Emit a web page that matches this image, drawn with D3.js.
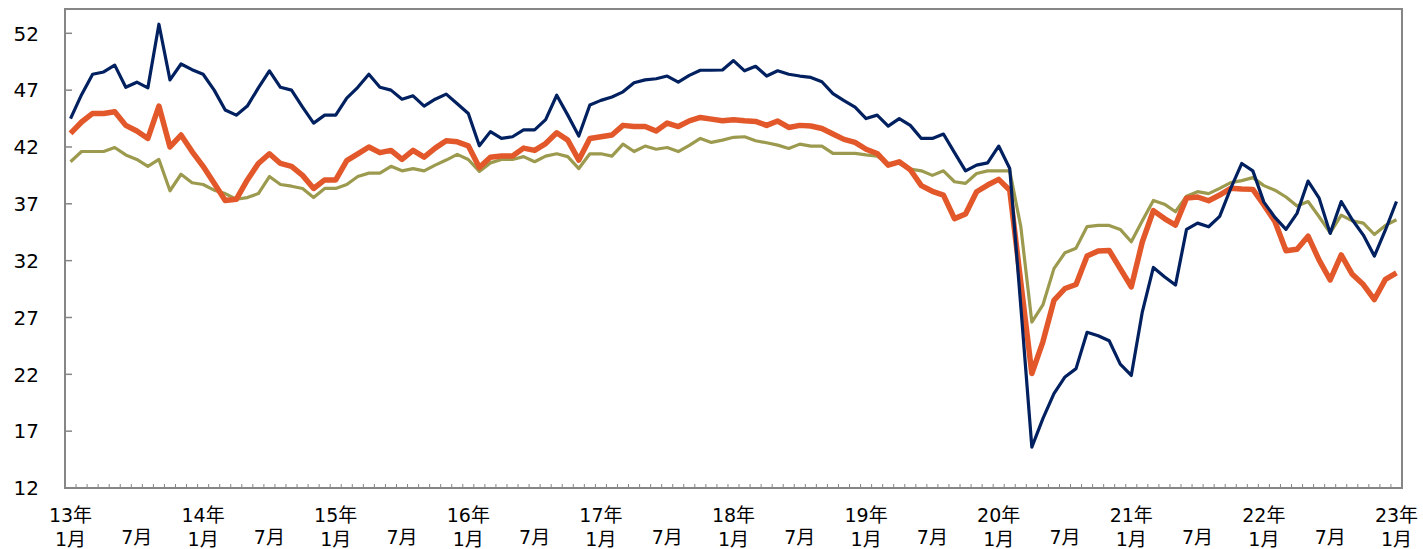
<!DOCTYPE html>
<html>
<head>
<meta charset="utf-8">
<script src="https://cdn.jsdelivr.net/npm/d3@7"></script>
<style>
  body { margin: 0; background: #fff; }
  text { font-family: "DejaVu Sans", Verdana, "Noto Sans CJK JP", sans-serif; fill: #000; }
</style>
</head>
<body>
<div id="chart"></div>
<script>
// monthly data, 2013/1 .. 2023/1
var seriesNavy = [44.5, 46.6, 48.4, 48.6, 49.2, 47.25, 47.7, 47.2, 52.8, 47.9, 49.3, 48.8,
  48.4, 47.0, 45.25, 44.8, 45.6, 47.2, 48.7, 47.25, 47.0, 45.5, 44.1, 44.8,
  44.8, 46.3, 47.25, 48.4, 47.25, 47.0, 46.2, 46.5, 45.6, 46.2, 46.65, 45.8,
  44.95, 42.1, 43.35, 42.75, 42.9, 43.5, 43.5, 44.4, 46.55, 44.8, 42.96, 45.7,
  46.1, 46.4, 46.85, 47.65, 47.9, 48.0, 48.24, 47.7, 48.3, 48.75, 48.75, 48.77,
  49.6, 48.7, 49.1, 48.24, 48.7, 48.4, 48.24, 48.12, 47.74, 46.7, 46.07, 45.5,
  44.5, 44.8, 43.84, 44.5, 43.9, 42.75, 42.75, 43.14, 41.5, 39.9, 40.4, 40.6,
  42.08, 40.1, 28.0, 15.6, 18.1, 20.3, 21.77, 22.5, 25.7, 25.4, 24.95, 22.9,
  21.9, 27.5, 31.4, 30.58, 29.85, 34.75, 35.3, 34.98, 35.9, 38.36, 40.55, 39.9,
  37.15, 35.8, 34.75, 36.16, 39.0, 37.5, 34.4, 37.2, 35.6, 34.25, 32.4, 34.7,
  37.2];

var seriesOrange = [43.2, 44.2, 44.95, 44.95, 45.1, 43.9, 43.4, 42.75, 45.6, 42.0, 43.05, 41.6,
  40.3, 38.8, 37.3, 37.4, 39.1, 40.55, 41.4, 40.55, 40.3, 39.5, 38.35, 39.1,
  39.1, 40.8, 41.4, 42.0, 41.5, 41.7, 40.9, 41.7, 41.1, 41.9, 42.55, 42.45,
  42.1, 40.2, 41.1, 41.2, 41.2, 41.9, 41.7, 42.3, 43.25, 42.6, 40.85, 42.75,
  42.9, 43.05, 43.9, 43.8, 43.8, 43.4, 44.1, 43.8, 44.3, 44.6, 44.45, 44.3,
  44.4, 44.3, 44.25, 43.9, 44.28, 43.72, 43.9, 43.84, 43.63, 43.14, 42.67, 42.4,
  41.8, 41.43, 40.4, 40.7, 40.0, 38.6, 38.1, 37.76, 35.7, 36.1, 38.06, 38.65,
  39.15, 38.2, 30.1, 22.07, 24.86, 28.5, 29.55, 29.9, 32.4, 32.85, 32.9, 31.3,
  29.7, 33.66, 36.4, 35.7, 35.13, 37.5, 37.6, 37.27, 37.77, 38.36, 38.3, 38.27,
  36.9, 35.45, 32.87, 33.0, 34.15, 32.04, 30.3, 32.5, 30.8, 29.9, 28.58, 30.35,
  30.93];

var seriesOlive = [40.7, 41.6, 41.6, 41.6, 41.95, 41.3, 40.9, 40.3, 40.9, 38.15, 39.6, 38.85,
  38.7, 38.2, 37.9, 37.4, 37.55, 37.9, 39.4, 38.7, 38.55, 38.35, 37.55, 38.35,
  38.35, 38.7, 39.4, 39.7, 39.7, 40.3, 39.9, 40.1, 39.9, 40.4, 40.85, 41.35,
  40.9, 39.85, 40.6, 40.9, 40.9, 41.15, 40.7, 41.2, 41.4, 41.15, 40.1, 41.4,
  41.4, 41.2, 42.25, 41.6, 42.08, 41.8, 41.95, 41.6, 42.15, 42.75, 42.4, 42.6,
  42.85, 42.9, 42.55, 42.37, 42.16, 41.87, 42.25, 42.08, 42.08, 41.43, 41.43, 41.43,
  41.3, 41.2, 40.55, 40.55, 40.05, 39.9, 39.5, 39.9, 38.94, 38.8, 39.67, 39.9,
  39.9, 39.9, 35.0, 26.6, 28.1, 31.3, 32.7, 33.1, 35.0, 35.1, 35.1, 34.75,
  33.66, 35.5, 37.3, 36.97, 36.3, 37.67, 38.07, 37.9, 38.36, 38.86, 39.04, 39.3,
  38.6, 38.2, 37.6, 36.8, 37.2, 35.86, 34.45, 36.0, 35.5, 35.3, 34.3, 35.1,
  35.6];

var yearLabels = ["13年", "14年", "15年", "16年", "17年", "18年", "19年", "20年", "21年", "22年", "23年"];
var yTicks = [12, 17, 22, 27, 32, 37, 42, 47, 52];

var svgWidth = 1423;
var svgHeight = 549;

var plot = { left: 65, right: 1402, top: 9, bottom: 488 };

var svg = d3.select("#chart")
  .append("svg")
  .attr("width", svgWidth)
  .attr("height", svgHeight);

var months = d3.range(seriesNavy.length);

var xScale = d3.scalePoint()
  .domain(months)
  .range([plot.left, plot.right])
  .padding(0.5);

var yScale = d3.scaleLinear()
  .domain([12, 52])
  .range([plot.bottom, 33.3]);

var step = xScale.step();

// month tick marks on the category boundaries, pointing up
svg.append("g").selectAll("line")
  .data(months.slice(0, months.length - 1))
  .enter()
  .append("line")
  .attr("x1", d => xScale(d) + step / 2)
  .attr("x2", d => xScale(d) + step / 2)
  .attr("y1", plot.bottom)
  .attr("y2", plot.bottom - 4)
  .attr("stroke", "#868686")
  .attr("stroke-width", 1);

// value ticks, pointing in
svg.append("g").selectAll("line")
  .data(yTicks)
  .enter()
  .append("line")
  .attr("x1", plot.left)
  .attr("x2", plot.left + 7)
  .attr("y1", d => yScale(d))
  .attr("y2", d => yScale(d))
  .attr("stroke", "#868686")
  .attr("stroke-width", 1.5);

// plot frame
svg.append("rect")
  .attr("x", plot.left)
  .attr("y", plot.top)
  .attr("width", plot.right - plot.left)
  .attr("height", plot.bottom - plot.top)
  .attr("fill", "none")
  .attr("stroke", "#868686")
  .attr("stroke-width", 2);

// y labels
svg.append("g").selectAll("text")
  .data(yTicks)
  .enter()
  .append("text")
  .attr("x", 39)
  .attr("y", d => yScale(d))
  .attr("dy", "0.36em")
  .attr("text-anchor", "end")
  .style("font-size", "20px")
  .text(d => d);

// x labels
var xLabels = svg.append("g");
months.filter(m => m % 12 === 0).forEach(function(m, i) {
  xLabels.append("text")
    .attr("x", xScale(m))
    .attr("y", 522)
    .attr("text-anchor", "middle")
    .style("font-size", "19px")
    .text(yearLabels[i]);
  xLabels.append("text")
    .attr("x", xScale(m))
    .attr("y", 546)
    .attr("text-anchor", "middle")
    .style("font-size", "19px")
    .text("1月");
});
months.filter(m => m % 12 === 6).forEach(function(m) {
  xLabels.append("text")
    .attr("x", xScale(m))
    .attr("y", 544)
    .attr("text-anchor", "middle")
    .style("font-size", "19px")
    .text("7月");
});

var line = d3.line()
  .x((d, i) => xScale(i))
  .y(d => yScale(d));

svg.append("path")
  .datum(seriesOlive)
  .attr("d", line)
  .attr("fill", "none")
  .attr("stroke", "#9C9A4E")
  .attr("stroke-width", 3.2)
  .attr("stroke-linejoin", "round");

svg.append("path")
  .datum(seriesOrange)
  .attr("d", line)
  .attr("fill", "none")
  .attr("stroke", "#E2582A")
  .attr("stroke-width", 5.5)
  .attr("stroke-linejoin", "round");

svg.append("path")
  .datum(seriesNavy)
  .attr("d", line)
  .attr("fill", "none")
  .attr("stroke", "#002060")
  .attr("stroke-width", 3.2)
  .attr("stroke-linejoin", "round");
</script>
</body>
</html>
